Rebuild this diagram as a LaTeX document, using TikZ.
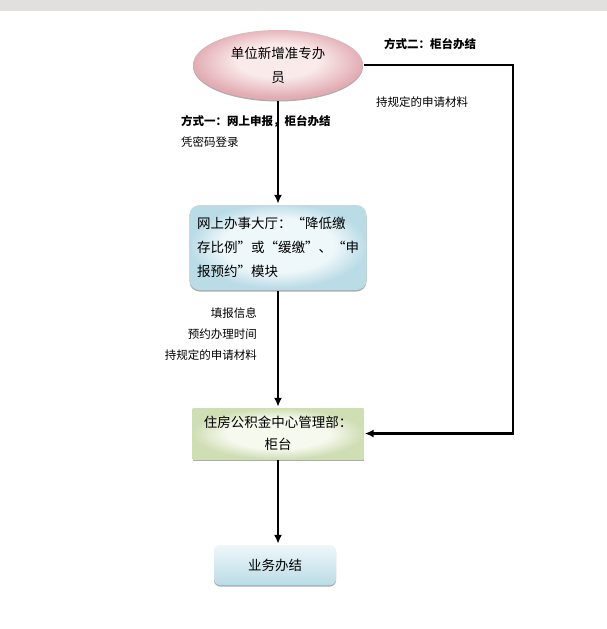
\documentclass[tikz,border=0pt]{standalone}
\usepackage{fontspec}
\setmainfont{Noto Sans CJK SC}
\usepackage{tikz}
\usetikzlibrary{positioning, arrows.meta, shapes.geometric, shadows}

\definecolor{pinkedge}{RGB}{226,172,180}
\definecolor{pinkmid}{RGB}{250,234,234}
\definecolor{blueedge}{RGB}{186,220,231}
\definecolor{bluemid}{RGB}{238,247,250}
\definecolor{greenedge}{RGB}{208,222,180}
\definecolor{greenmid}{RGB}{246,249,238}
\definecolor{bandgray}{RGB}{226,223,223}

% soft radial fills: light middle, coloured rim
\pgfdeclareradialshading{pinkglow}{\pgfpoint{0bp}{4bp}}{color(0bp)=(pinkmid); color(12bp)=(pinkmid); color(25bp)=(pinkedge); color(50bp)=(pinkedge)}
\pgfdeclareradialshading{blueglow}{\pgfpoint{0bp}{2bp}}{color(0bp)=(bluemid); color(16bp)=(bluemid); color(25bp)=(blueedge); color(50bp)=(blueedge)}
\pgfdeclareradialshading{greenglow}{\pgfpoint{0bp}{0bp}}{color(0bp)=(greenmid); color(15bp)=(greenmid); color(25bp)=(greenedge); color(50bp)=(greenedge)}

\tikzset{
  boxtext/.style={font=\fontsize{13.5}{24}\selectfont, inner sep=2pt},
  notetext/.style={font=\fontsize{11.5}{21}\selectfont, inner sep=0pt},
  softshadow/.style={drop shadow={shadow xshift=0pt, shadow yshift=-1.5pt, fill=gray!80, opacity=0.8}},
}

\begin{document}
\begin{tikzpicture}[x=1pt, y=1pt, ->, >={Latex[length=9pt,width=8pt]}, line width=2.4pt, on grid]
\useasboundingbox (0,0) rectangle (607,-629);
\fill[bandgray] (0,0) rectangle (607,-11);

\node[ellipse, boxtext, softshadow, align=center, shading=pinkglow,
      minimum width=170pt, minimum height=70pt] (unit staff) at (278,-65) {单位新增准专办\\员};
\node[boxtext, softshadow, rounded corners=10pt, align=left, shading=blueglow,
      minimum width=177pt, minimum height=85pt, below=182.5pt of unit staff] (online hall)
      {网上办事大厅：“降低缴\\存比例”或“缓缴”、“申\\报预约”模块};
\node[boxtext, font=\fontsize{13.5}{22}\selectfont, softshadow, align=center, shading=greenglow,
      minimum width=171pt, minimum height=51pt, below=186pt of online hall] (counter)
      {住房公积金中心管理部：\\柜台};
\node[boxtext, softshadow, rounded corners=6pt, top color=bluemid, bottom color=blueedge,
      minimum width=122pt, minimum height=40pt, below=131.5pt of counter, xshift=-3pt] (done) {业务办结};

\coordinate (right turn) at (513,-65);

\node[notetext, font=\fontsize{11.5}{21}\selectfont\bfseries, anchor=west] (way two) at (383,-44) {方式二：柜台办结};
\node[notetext, anchor=west] (material right) at (375,-102) {持规定的申请材料};
\node[notetext, font=\fontsize{11.5}{21}\selectfont\bfseries, anchor=west] (way one) at (180,-121) {方式一：网上申报，柜台办结};
\node[notetext, anchor=west] (password) at (180,-142) {凭密码登录};
\node[notetext, align=right, anchor=east] (fill info) at (258,-334) {填报信息\\预约办理时间\\持规定的申请材料};

\draw (unit staff) -- (online hall);
\draw[line width=1.8pt] (online hall) -- (counter);
\draw (counter.south) -- (counter.south |- done.north);
\draw (unit staff.east) -- (right turn) |- (counter.east);

\end{tikzpicture}
\end{document}
